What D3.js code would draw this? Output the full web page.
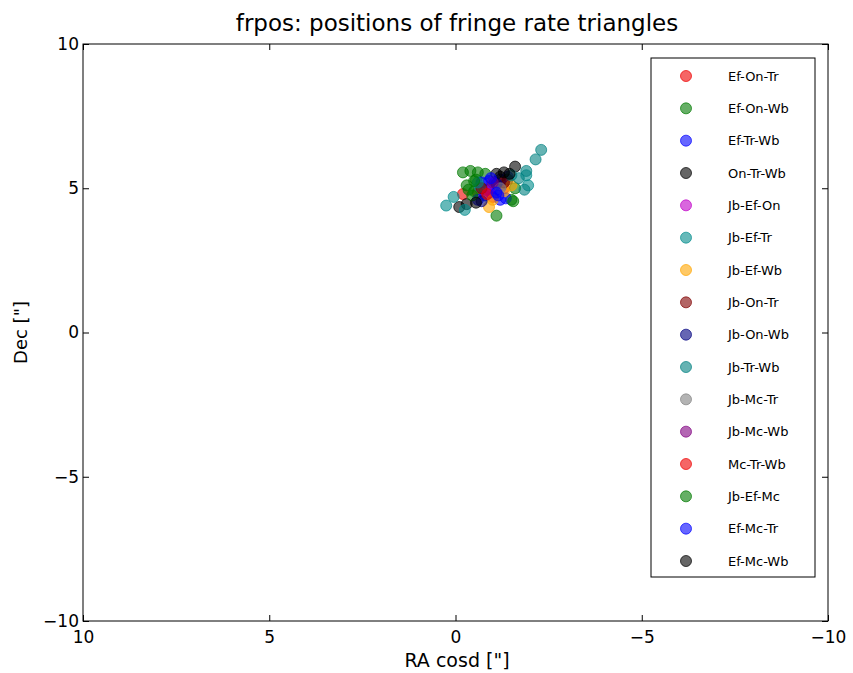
<!DOCTYPE html>
<html><head><meta charset="utf-8">
<script src="https://cdn.jsdelivr.net/npm/d3@7"></script>
<style>body{margin:0;background:#fff;font-family:"DejaVu Sans",sans-serif;}</style>
</head><body>
<svg id="c" width="853" height="673"></svg>
<script>
const seriesNames = ["Ef-On-Tr","Ef-On-Wb","Ef-Tr-Wb","On-Tr-Wb","Jb-Ef-On","Jb-Ef-Tr","Jb-Ef-Wb","Jb-On-Tr","Jb-On-Wb","Jb-Tr-Wb","Jb-Mc-Tr","Jb-Mc-Wb","Mc-Tr-Wb","Jb-Ef-Mc","Ef-Mc-Tr","Ef-Mc-Wb"];
const seriesColors = ["#ee0000","#007a00","#0000ff","#000000","#c000c8","#008b8b","#ffa500","#800000","#000080","#008080","#808080","#800080","#ee0000","#007a00","#0000ff","#000000"];
const seriesPoints = [
  [[-0.2,4.8],[-0.8,4.95],[-1.0,4.7],[-1.3,5.0],[-0.6,4.85]],
  [[-0.2,5.55],[-0.4,5.6],[-0.6,5.55],[-0.8,5.5],[-0.3,5.1],[-0.5,4.9],[-1.1,4.05],[-1.5,4.6],[-1.6,5.0],[-0.35,4.95],[-0.55,5.3]],
  [[-0.9,5.25],[-1.0,5.1],[-1.1,4.95],[-1.2,5.3],[-0.6,4.6],[-1.2,4.6],[-1.4,5.4],[-0.8,4.75],[-1.05,5.2],[-0.95,4.85],[-1.25,5.1],[-0.7,5.2],[-1.35,4.65]],
  [[-0.1,4.35],[-1.6,5.75],[-1.2,5.4],[-1.4,5.3],[-1.1,5.5],[-0.3,4.45]],
  [[-0.9,4.9]],
  [[0.25,4.4],[0.05,4.7],[-0.25,4.25],[-1.9,5.45],[-1.95,5.1],[-0.65,5.05]],
  [[-0.9,4.35],[-1.3,4.9],[-1.0,4.6],[-1.5,5.1]],
  [[-0.7,5.0],[-1.3,5.2]],
  [[-0.7,4.55],[-1.1,5.15]],
  [[-2.3,6.33],[-2.15,6.0],[-1.9,5.6],[-1.85,4.95],[-0.6,5.2],[-1.7,5.35],[-1.5,5.45]],
  [[-1.2,5.0]],
  [[-1.0,5.2]],
  [[-0.85,4.8]],
  [[-0.5,5.25],[-1.55,4.55],[-0.45,4.75]],
  [[-1.15,4.75],[-0.95,5.35],[-1.1,4.85]],
  [[-1.45,5.5],[-0.55,4.5],[-1.3,5.55]]
];
const xTicks = [10,5,0,-5,-10];
const yTicks = [-10,-5,0,5,10];
const titleText = "frpos: positions of fringe rate triangles";
const xLabel = "RA cosd [\"]";
const yLabel = "Dec [\"]";

const L=83, R=828, T=44, B=621;
const svg = d3.select("#c");
const x = d3.scaleLinear().domain([10,-10]).range([L,R]);
const y = d3.scaleLinear().domain([-10,10]).range([B,T]);
const fmt = d => d<0 ? "\u2212"+Math.abs(d) : ""+d;

const g = svg.append("g");
seriesPoints.forEach((pts,i)=>{
  g.selectAll(null).data(pts).enter().append("circle")
    .attr("cx",d=>x(d[0])).attr("cy",d=>y(d[1])).attr("r",5.5)
    .attr("fill",seriesColors[i]).attr("fill-opacity",0.6)
    .attr("stroke",seriesColors[i]).attr("stroke-opacity",0.7).attr("stroke-width",1);
});

svg.append("rect").attr("x",L).attr("y",T).attr("width",R-L).attr("height",B-T)
  .attr("fill","none").attr("stroke","#000").attr("stroke-width",1);

const axB = svg.append("g").attr("transform",`translate(0,${B})`)
  .call(d3.axisBottom(x).tickValues(xTicks).tickSize(-6).tickPadding(8).tickFormat(fmt));
const axT = svg.append("g").attr("transform",`translate(0,${T})`)
  .call(d3.axisTop(x).tickValues(xTicks).tickSize(-6).tickFormat(""));
const axL = svg.append("g").attr("transform",`translate(${L},0)`)
  .call(d3.axisLeft(y).tickValues(yTicks).tickSize(-6).tickPadding(4).tickFormat(fmt));
const axR = svg.append("g").attr("transform",`translate(${R},0)`)
  .call(d3.axisRight(y).tickValues(yTicks).tickSize(-6).tickFormat(""));
[axB,axT,axL,axR].forEach(a=>{
  a.select(".domain").remove();
  a.selectAll("line").attr("stroke","#000");
  a.selectAll("text").attr("font-family","DejaVu Sans, sans-serif").attr("font-size",17).attr("fill","#000");
});
axB.selectAll("text").attr("dy","0.8em");

svg.append("text").attr("x",457).attr("y",31).attr("text-anchor","middle")
  .attr("font-size",23).text(titleText);
svg.append("text").attr("x",457).attr("y",667).attr("text-anchor","middle")
  .attr("font-size",19).text(xLabel);
svg.append("text").attr("transform",`translate(27,${(T+B)/2}) rotate(-90)`).attr("text-anchor","middle")
  .attr("font-size",18).text(yLabel);

const lg = svg.append("g");
lg.append("rect").attr("x",651).attr("y",58).attr("width",164).attr("height",519)
  .attr("fill","#fff").attr("stroke","#000").attr("stroke-width",1);
const ly = d3.scaleLinear().domain([0,15]).range([76,561]);
seriesNames.forEach((n,i)=>{
  lg.append("circle").attr("cx",686).attr("cy",ly(i)).attr("r",5.5)
    .attr("fill",seriesColors[i]).attr("fill-opacity",0.6)
    .attr("stroke",seriesColors[i]).attr("stroke-opacity",0.7);
  lg.append("text").attr("x",728).attr("y",ly(i)).attr("dy","0.35em")
    .attr("font-size",13).text(n);
});
</script>
</body></html>
